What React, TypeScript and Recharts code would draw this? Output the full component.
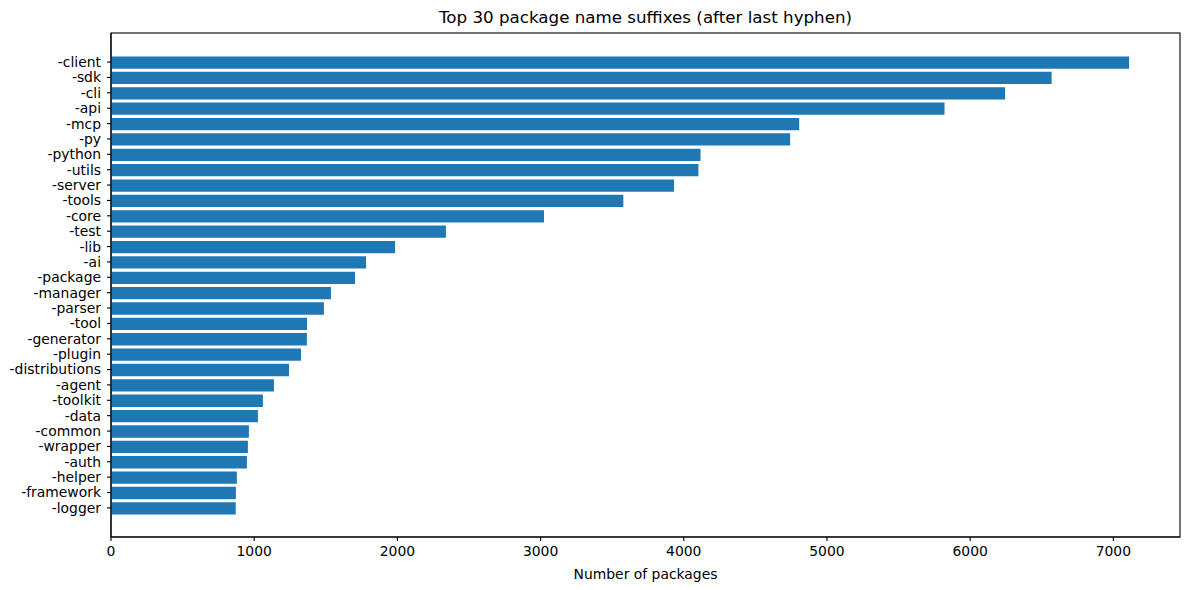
import React from 'react';
import { BarChart, Bar, XAxis, YAxis, ReferenceArea } from 'recharts';

const suffixes = [
  '-client', '-sdk', '-cli', '-api', '-mcp', '-py', '-python', '-utils', '-server', '-tools',
  '-core', '-test', '-lib', '-ai', '-package', '-manager', '-parser', '-tool', '-generator', '-plugin',
  '-distributions', '-agent', '-toolkit', '-data', '-common', '-wrapper', '-auth', '-helper', '-framework', '-logger',
];

const packageCounts = [
  7110, 6569, 6244, 5821, 4806, 4743, 4117, 4102, 3932, 3578,
  3024, 2339, 1984, 1781, 1704, 1536, 1487, 1369, 1368, 1327,
  1243, 1138, 1061, 1026, 963, 956, 949, 879, 872, 871,
];

const xTicks = [0, 1000, 2000, 3000, 4000, 5000, 6000, 7000];

const title = 'Top 30 package name suffixes (after last hyphen)';
const xLabel = 'Number of packages';

const data = suffixes.map((name, i) => ({ name, count: packageCounts[i] }));
const xMax = Math.max(...packageCounts) * 1.05;

const font = 'DejaVu Sans, sans-serif';
const tickStyle = { fill: '#000', fontSize: 13.9, fontFamily: font };
const spine = { stroke: '#000', strokeWidth: 1.1 };
const yPad = 21.4;

// frame around the whole plot area (category padding included)
const Frame = (p: any) => (
  <rect
    x={p.x}
    y={p.y - yPad}
    width={p.width}
    height={p.height + 2 * yPad}
    fill="none"
    stroke="#000"
    strokeWidth={1.1}
  />
);

export default function App() {
  return (
    <div style={{ position: 'absolute', left: 0, top: 0, width: 1189, height: 590, background: '#fff' }}>
      <div
        style={{
          position: 'absolute',
          left: 111,
          width: 1069,
          top: 7,
          textAlign: 'center',
          fontFamily: font,
          fontSize: 16.7,
          color: '#000',
          lineHeight: '20px',
        }}
      >
        {title}
      </div>
      <BarChart
        width={1189}
        height={590}
        data={data}
        layout="vertical"
        margin={{ top: 33, right: 9, left: 0, bottom: 0 }}
        barSize={12.3}
      >
        <XAxis
          type="number"
          domain={[0, xMax]}
          ticks={xTicks}
          allowDataOverflow
          height={53}
          tick={tickStyle}
          tickSize={4}
          tickMargin={5}
          axisLine={spine}
          tickLine={spine}
          label={{ value: xLabel, position: 'insideBottom', offset: 11, fill: '#000', fontSize: 13.9, fontFamily: font }}
        />
        <YAxis
          type="category"
          dataKey="name"
          width={111}
          interval={0}
          padding={{ top: yPad, bottom: yPad }}
          tick={tickStyle}
          tickSize={4}
          tickMargin={6}
          axisLine={spine}
          tickLine={spine}
        />
        <Bar dataKey="count" fill="#1f77b4" isAnimationActive={false} />
        <ReferenceArea x1={0} x2={xMax} ifOverflow="visible" shape={Frame} />
      </BarChart>
    </div>
  );
}
